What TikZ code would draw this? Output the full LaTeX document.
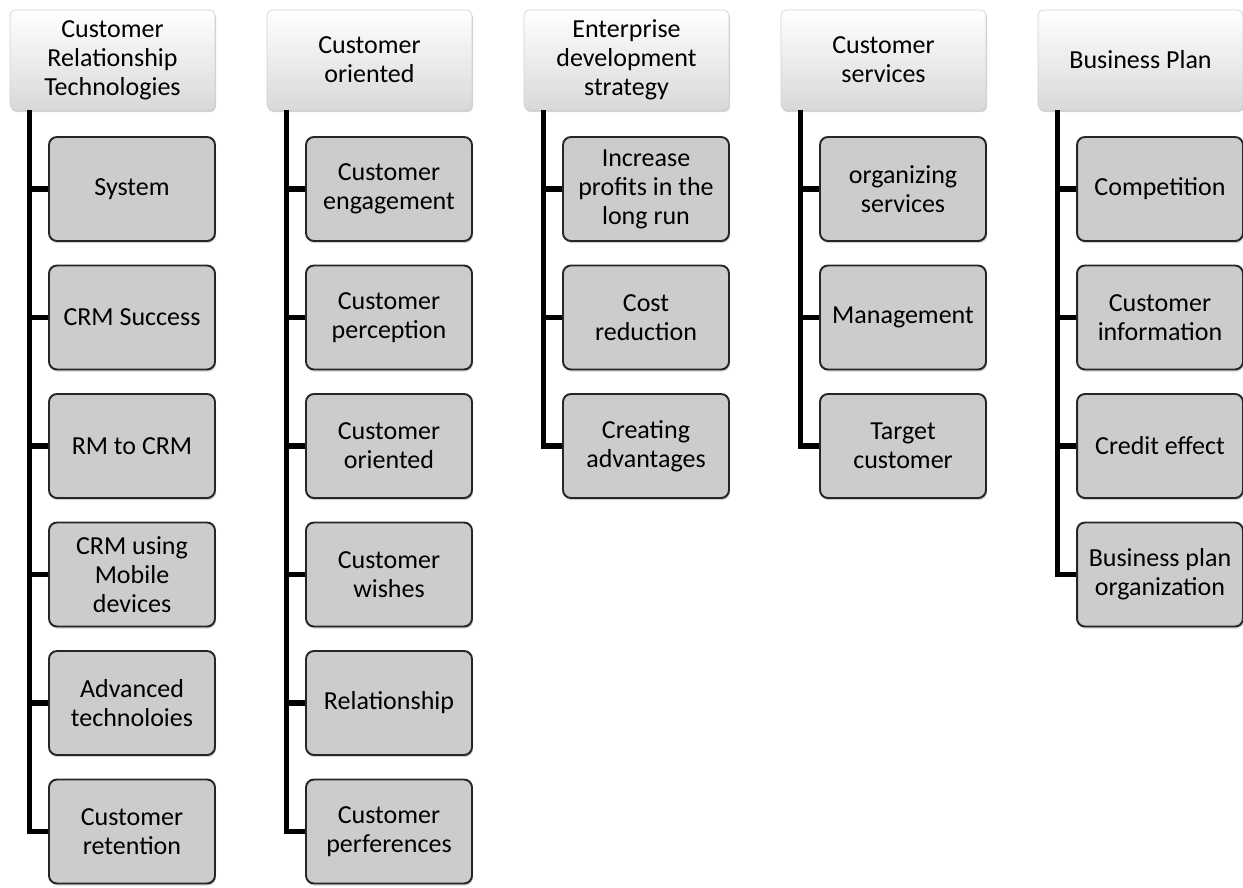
\documentclass[tikz,border=0pt]{standalone}
\usepackage{fontspec}
\setmainfont{Carlito}
\usetikzlibrary{shadows}
\tikzset{
  head/.style={rounded corners=3pt, top color=white, bottom color=gray!30,
    draw=gray!35, minimum width=4.1cm, minimum height=2cm, align=center,
    inner sep=0pt, drop shadow={shadow xshift=0.6pt, shadow yshift=-1.2pt, opacity=0.35}},
  leaf/.style={rounded corners=4.5pt, fill=gray!40, draw=black!85, line width=1.1pt,
    minimum width=3.32cm, minimum height=2.08cm, align=center, inner sep=0pt,
    drop shadow={shadow xshift=0.6pt, shadow yshift=-1.2pt, opacity=0.35}},
  trunk/.style={line width=3pt}
}
\begin{document}
\begin{tikzpicture}[x=0.02cm, y=-0.02cm, font=\fontsize{14.8pt}{16.5pt}\selectfont]
    \useasboundingbox (0, 0) rectangle (1243, 887);
    % headers
    \node[head] (h1) at (112.5, 60) {Customer\\Relationship\\Technologies};
    \node[head] (h2) at (369.5, 60) {Customer\\oriented};
    \node[head] (h3) at (626.5, 60) {Enterprise\\development\\strategy};
    \node[head] (h4) at (883.5, 60) {Customer\\services};
    \node[head] (h5) at (1140.5, 60) {Business Plan};
    % first column
    \node[leaf] (a1) at (132, 189) {System};
    \node[leaf] (a2) at (132, 317.5) {CRM Success};
    \node[leaf] (a3) at (132, 446) {RM to CRM};
    \node[leaf] (a4) at (132, 574.5) {CRM using\\Mobile\\devices};
    \node[leaf] (a5) at (132, 703) {Advanced\\technoloies};
    \node[leaf] (a6) at (132, 831.5) {Customer\\retention};
    % second column
    \node[leaf] (b1) at (389, 189) {Customer\\engagement};
    \node[leaf] (b2) at (389, 317.5) {Customer\\perception};
    \node[leaf] (b3) at (389, 446) {Customer\\oriented};
    \node[leaf] (b4) at (389, 574.5) {Customer\\wishes};
    \node[leaf] (b5) at (389, 703) {Relationship};
    \node[leaf] (b6) at (389, 831.5) {Customer\\perferences};
    % third column
    \node[leaf] (c1) at (646, 189) {Increase\\profits in the\\long run};
    \node[leaf] (c2) at (646, 317.5) {Cost\\reduction};
    \node[leaf] (c3) at (646, 446) {Creating\\advantages};
    % fourth column
    \node[leaf] (d1) at (903, 189) {organizing\\services};
    \node[leaf] (d2) at (903, 317.5) {Management};
    \node[leaf] (d3) at (903, 446) {Target\\customer};
    % fifth column
    \node[leaf] (e1) at (1160, 189) {Competition};
    \node[leaf] (e2) at (1160, 317.5) {Customer\\information};
    \node[leaf] (e3) at (1160, 446) {Credit effect};
    \node[leaf] (e4) at (1160, 574.5) {Business plan\\organization};
    % trunks
    \coordinate (t1) at ([xshift=4mm]h1.south west);
    \coordinate (t2) at ([xshift=4mm]h2.south west);
    \coordinate (t3) at ([xshift=4mm]h3.south west);
    \coordinate (t4) at ([xshift=4mm]h4.south west);
    \coordinate (t5) at ([xshift=4mm]h5.south west);
    \draw[trunk] (t1) |- (a6.west) (t1) |- (a5.west) (t1) |- (a4.west)
        (t1) |- (a3.west) (t1) |- (a2.west) (t1) |- (a1.west);
    \draw[trunk] (t2) |- (b6.west) (t2) |- (b5.west) (t2) |- (b4.west)
        (t2) |- (b3.west) (t2) |- (b2.west) (t2) |- (b1.west);
    \draw[trunk] (t3) |- (c3.west) (t3) |- (c2.west) (t3) |- (c1.west);
    \draw[trunk] (t4) |- (d3.west) (t4) |- (d2.west) (t4) |- (d1.west);
    \draw[trunk] (t5) |- (e4.west) (t5) |- (e3.west) (t5) |- (e2.west)
        (t5) |- (e1.west);
\end{tikzpicture}
\end{document}
